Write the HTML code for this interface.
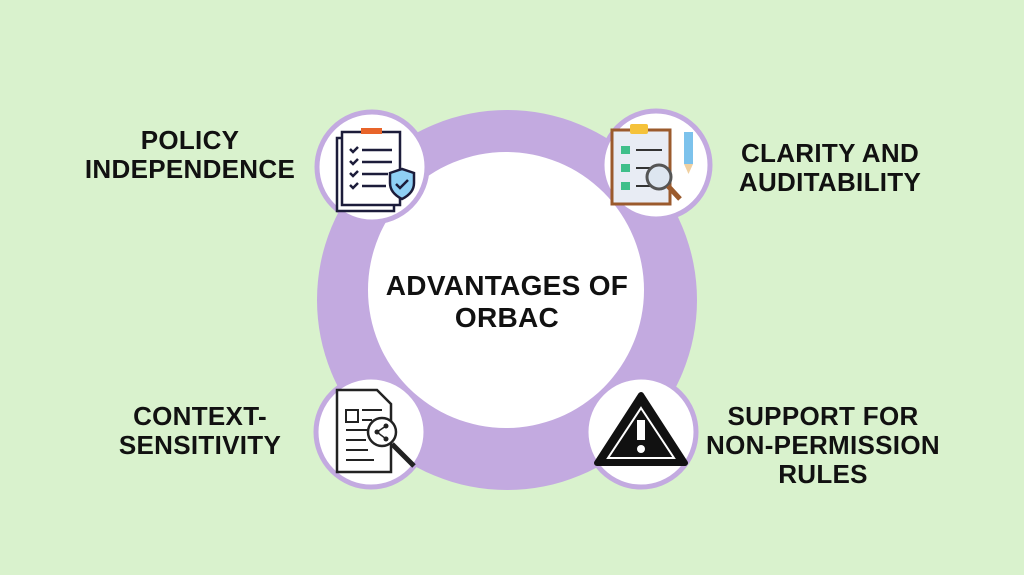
<!DOCTYPE html>
<html><head><meta charset="utf-8"><style>
html,body{margin:0;padding:0}
body{width:1024px;height:575px;background:#d9f2cd;overflow:hidden;position:relative;font-family:"Liberation Sans",Arial,sans-serif}
.t{position:absolute;font-weight:bold;font-size:26px;line-height:29px;text-align:center;color:#111;letter-spacing:0.3px}
svg{position:absolute;left:0;top:0}
</style></head><body>
<svg width="1024" height="575" viewBox="0 0 1024 575">
<circle cx="507" cy="300" r="190" fill="#c3aae0"/>
<circle cx="506" cy="290" r="138" fill="#fff"/>
<g fill="#fff" stroke="#c3aae0" stroke-width="5">
<circle cx="372" cy="167" r="55"/>
<circle cx="656" cy="165" r="54"/>
<circle cx="371" cy="432" r="55"/>
<circle cx="641" cy="432" r="55"/>
</g>
<g stroke="#1c1c3a" stroke-width="2.5" fill="none">
<rect x="337" y="138" width="57" height="73" fill="#fff"/>
<rect x="342" y="132" width="58" height="73" fill="#fff"/>
<path d="M350 149l3 3 5-5M350 161l3 3 5-5M350 173l3 3 5-5M350 185l3 3 5-5"/>
<path d="M362 150h30M362 162h30M362 174h26M362 186h24"/>
</g>
<rect x="361" y="128" width="21" height="6" fill="#e8642a"/>
<path d="M390 173l12-4 12 4v10c0 8-6 13-12 16-6-3-12-8-12-16z" fill="#8fd0f5" stroke="#1c1c3a" stroke-width="2.5"/>
<path d="M396 184l4 4 8-8" stroke="#1c1c3a" stroke-width="2.5" fill="none"/>
<rect x="612" y="130" width="58" height="74" fill="#e8ecf4" stroke="#9b5a2c" stroke-width="3"/>
<rect x="630" y="124" width="18" height="10" rx="2" fill="#f5c23a"/>
<rect x="621" y="146" width="9" height="8" fill="#3fbf8a"/><rect x="621" y="164" width="9" height="8" fill="#3fbf8a"/><rect x="621" y="182" width="9" height="8" fill="#3fbf8a"/>
<path d="M636 150h26M636 168h22M636 186h18" stroke="#333" stroke-width="2"/>
<rect x="684" y="132" width="9" height="32" fill="#7cc2ec"/>
<path d="M684 164h9l-4.5 10z" fill="#f0d0a0"/>
<circle cx="659" cy="177" r="12" fill="#dde6f0" stroke="#555" stroke-width="3"/>
<path d="M668 186l12 13" stroke="#9b5a2c" stroke-width="5"/>
<path d="M337 390h40l14 14v68h-54z" fill="#fff" stroke="#222" stroke-width="2.5"/>
<rect x="346" y="410" width="12" height="12" fill="none" stroke="#222" stroke-width="2"/>
<path d="M362 410h20M362 420h10M346 430h22M346 440h20M346 450h22M346 460h28" stroke="#222" stroke-width="2"/>
<circle cx="382" cy="432" r="14" fill="#fff" stroke="#222" stroke-width="2.5"/>
<path d="M392 444l22 22" stroke="#222" stroke-width="5"/>
<circle cx="377" cy="432" r="2.5" fill="#222"/><circle cx="386" cy="426" r="2.5" fill="#222"/><circle cx="386" cy="439" r="2.5" fill="#222"/>
<path d="M377 432l9-6M377 432l9 7" stroke="#222" stroke-width="1.5"/>
<path d="M641 395l44 68h-88z" fill="#111" stroke="#111" stroke-width="6" stroke-linejoin="round"/>
<path d="M641 408l33 50h-66z" fill="none" stroke="#fff" stroke-width="2"/>
<rect x="637" y="420" width="8" height="20" fill="#fff"/>
<circle cx="641" cy="449" r="4" fill="#fff"/>
</svg>
<div class="t" style="left:366px;top:270px;width:282px;font-size:28px;line-height:32px">ADVANTAGES OF<br>ORBAC</div>
<div class="t" style="left:60px;top:126px;width:260px">POLICY<br>INDEPENDENCE</div>
<div class="t" style="left:700px;top:139px;width:260px">CLARITY AND<br>AUDITABILITY</div>
<div class="t" style="left:70px;top:402px;width:260px">CONTEXT-<br>SENSITIVITY</div>
<div class="t" style="left:685px;top:402px;width:276px">SUPPORT FOR<br>NON-PERMISSION<br>RULES</div>
</body></html>
